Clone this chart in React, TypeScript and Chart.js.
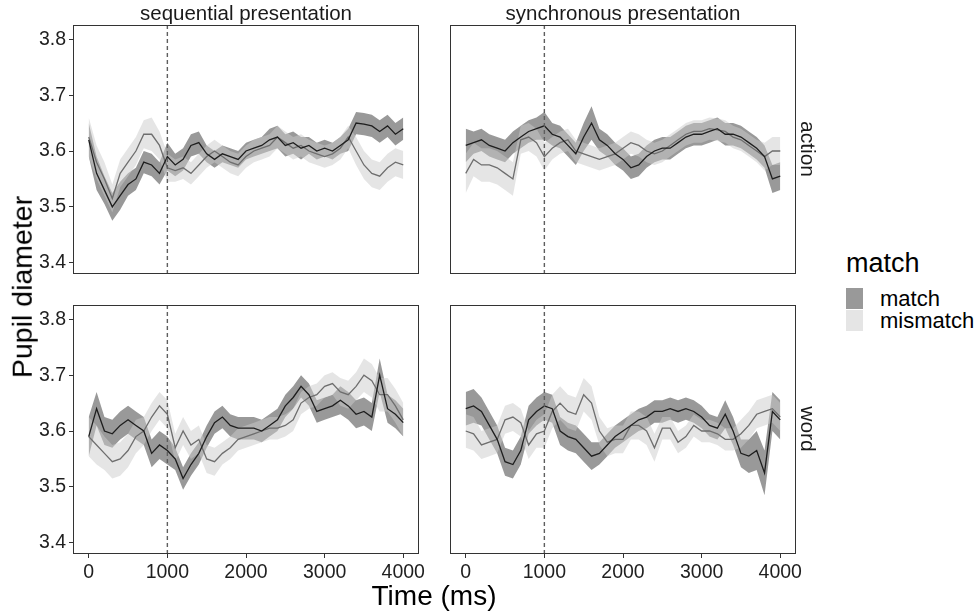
import React, { useEffect, useRef } from "react";
import { Chart, registerables } from "chart.js";

Chart.register(...registerables);

// ---------- data ----------
const TIME = [0, 100, 200, 300, 400, 500, 600, 700, 800, 900, 1000, 1100, 1200, 1300, 1400, 1500, 1600, 1700, 1800, 1900, 2000, 2100, 2200, 2300, 2400, 2500, 2600, 2700, 2800, 2900, 3000, 3100, 3200, 3300, 3400, 3500, 3600, 3700, 3800, 3900, 4000];

const X_TICKS = [0, 1000, 2000, 3000, 4000];
const X_TICK_LABELS = ["0", "1000", "2000", "3000", "4000"];
const Y_TICKS = [3.4, 3.5, 3.6, 3.7, 3.8];
const Y_TICK_LABELS = ["3.4", "3.5", "3.6", "3.7", "3.8"];
const ONSET = 1000;

const COL_LABELS = ["sequential presentation", "synchronous presentation"];
const ROW_LABELS = ["action", "word"];
const LEGEND_TITLE = "match";
const LEGEND_LABELS = ["match", "mismatch"];

// sequential / action
const SEQ_ACTION_MATCH = [3.62, 3.56, 3.53, 3.5, 3.52, 3.54, 3.55, 3.58, 3.575, 3.56, 3.59, 3.575, 3.585, 3.61, 3.615, 3.595, 3.585, 3.595, 3.59, 3.585, 3.6, 3.605, 3.61, 3.62, 3.625, 3.61, 3.615, 3.605, 3.61, 3.6, 3.605, 3.6, 3.61, 3.62, 3.65, 3.648, 3.645, 3.635, 3.645, 3.63, 3.64];
const SEQ_ACTION_MATCH_SE = [0.03, 0.03, 0.025, 0.025, 0.025, 0.02, 0.02, 0.02, 0.02, 0.02, 0.025, 0.02, 0.02, 0.02, 0.02, 0.015, 0.015, 0.015, 0.015, 0.015, 0.015, 0.015, 0.015, 0.02, 0.02, 0.02, 0.02, 0.02, 0.015, 0.015, 0.015, 0.015, 0.015, 0.02, 0.02, 0.02, 0.02, 0.02, 0.02, 0.02, 0.02];
const SEQ_ACTION_MISMATCH = [3.625, 3.58, 3.55, 3.515, 3.56, 3.58, 3.6, 3.63, 3.63, 3.61, 3.57, 3.565, 3.57, 3.56, 3.575, 3.59, 3.6, 3.59, 3.58, 3.575, 3.59, 3.6, 3.605, 3.61, 3.625, 3.615, 3.605, 3.61, 3.6, 3.595, 3.59, 3.595, 3.605, 3.625, 3.6, 3.575, 3.56, 3.555, 3.57, 3.58, 3.575];
const SEQ_ACTION_MISMATCH_SE = [0.035, 0.03, 0.03, 0.025, 0.025, 0.025, 0.025, 0.025, 0.03, 0.025, 0.025, 0.02, 0.02, 0.02, 0.02, 0.02, 0.02, 0.02, 0.02, 0.02, 0.02, 0.02, 0.02, 0.02, 0.02, 0.02, 0.02, 0.02, 0.02, 0.02, 0.02, 0.02, 0.02, 0.02, 0.025, 0.025, 0.025, 0.025, 0.025, 0.025, 0.025];

// synchronous / action
const SYNC_ACTION_MATCH = [3.61, 3.615, 3.62, 3.61, 3.605, 3.6, 3.615, 3.625, 3.635, 3.64, 3.645, 3.63, 3.625, 3.61, 3.595, 3.625, 3.65, 3.62, 3.61, 3.595, 3.585, 3.57, 3.575, 3.59, 3.6, 3.605, 3.605, 3.615, 3.625, 3.63, 3.63, 3.635, 3.64, 3.63, 3.63, 3.625, 3.615, 3.605, 3.59, 3.55, 3.555];
const SYNC_ACTION_MATCH_SE = [0.03, 0.02, 0.02, 0.02, 0.02, 0.02, 0.02, 0.02, 0.02, 0.02, 0.025, 0.02, 0.02, 0.02, 0.02, 0.025, 0.03, 0.02, 0.02, 0.02, 0.02, 0.02, 0.02, 0.02, 0.02, 0.02, 0.02, 0.02, 0.02, 0.02, 0.02, 0.02, 0.02, 0.02, 0.02, 0.02, 0.02, 0.02, 0.02, 0.025, 0.025];
const SYNC_ACTION_MISMATCH = [3.56, 3.585, 3.575, 3.575, 3.57, 3.56, 3.55, 3.62, 3.625, 3.615, 3.59, 3.605, 3.615, 3.62, 3.6, 3.595, 3.59, 3.585, 3.59, 3.595, 3.605, 3.615, 3.61, 3.6, 3.595, 3.6, 3.61, 3.62, 3.63, 3.635, 3.635, 3.64, 3.638, 3.635, 3.625, 3.62, 3.61, 3.6, 3.59, 3.6, 3.6];
const SYNC_ACTION_MISMATCH_SE = [0.035, 0.03, 0.03, 0.03, 0.03, 0.03, 0.03, 0.025, 0.025, 0.025, 0.025, 0.02, 0.02, 0.02, 0.02, 0.02, 0.02, 0.02, 0.02, 0.02, 0.02, 0.02, 0.02, 0.02, 0.02, 0.02, 0.02, 0.02, 0.02, 0.02, 0.02, 0.02, 0.02, 0.02, 0.02, 0.02, 0.02, 0.02, 0.025, 0.025, 0.025];

// sequential / word
const SEQ_WORD_MATCH = [3.59, 3.64, 3.6, 3.595, 3.61, 3.62, 3.61, 3.6, 3.56, 3.575, 3.565, 3.55, 3.515, 3.54, 3.56, 3.59, 3.615, 3.625, 3.61, 3.605, 3.605, 3.605, 3.6, 3.61, 3.62, 3.645, 3.66, 3.68, 3.665, 3.635, 3.64, 3.645, 3.655, 3.645, 3.63, 3.635, 3.625, 3.7, 3.64, 3.63, 3.615];
const SEQ_WORD_MATCH_SE = [0.035, 0.03, 0.025, 0.025, 0.025, 0.025, 0.025, 0.025, 0.025, 0.025, 0.025, 0.02, 0.02, 0.02, 0.02, 0.02, 0.02, 0.02, 0.02, 0.02, 0.02, 0.02, 0.02, 0.02, 0.02, 0.02, 0.02, 0.02, 0.02, 0.02, 0.02, 0.02, 0.025, 0.025, 0.025, 0.025, 0.025, 0.03, 0.025, 0.025, 0.025];
const SEQ_WORD_MISMATCH = [3.59, 3.575, 3.56, 3.545, 3.55, 3.565, 3.59, 3.6, 3.625, 3.645, 3.63, 3.57, 3.6, 3.575, 3.585, 3.55, 3.545, 3.56, 3.57, 3.585, 3.59, 3.595, 3.6, 3.605, 3.605, 3.61, 3.62, 3.65, 3.66, 3.665, 3.68, 3.685, 3.67, 3.665, 3.68, 3.7, 3.69, 3.665, 3.665, 3.645, 3.62];
const SEQ_WORD_MISMATCH_SE = [0.035, 0.035, 0.03, 0.03, 0.03, 0.03, 0.03, 0.025, 0.025, 0.025, 0.025, 0.025, 0.025, 0.025, 0.025, 0.025, 0.025, 0.02, 0.02, 0.02, 0.02, 0.02, 0.02, 0.02, 0.02, 0.02, 0.02, 0.02, 0.02, 0.02, 0.02, 0.02, 0.025, 0.025, 0.025, 0.03, 0.03, 0.03, 0.03, 0.03, 0.03];

// synchronous / word
const SYNC_WORD_MATCH = [3.64, 3.645, 3.635, 3.61, 3.585, 3.545, 3.54, 3.565, 3.62, 3.635, 3.645, 3.64, 3.6, 3.59, 3.585, 3.57, 3.555, 3.56, 3.575, 3.59, 3.6, 3.61, 3.62, 3.625, 3.635, 3.635, 3.64, 3.635, 3.64, 3.635, 3.625, 3.61, 3.605, 3.63, 3.6, 3.56, 3.555, 3.565, 3.525, 3.635, 3.62];
const SYNC_WORD_MATCH_SE = [0.03, 0.03, 0.025, 0.025, 0.025, 0.025, 0.025, 0.025, 0.025, 0.025, 0.025, 0.025, 0.025, 0.025, 0.025, 0.025, 0.025, 0.02, 0.02, 0.02, 0.02, 0.02, 0.02, 0.02, 0.02, 0.02, 0.02, 0.02, 0.02, 0.02, 0.02, 0.02, 0.02, 0.025, 0.025, 0.025, 0.03, 0.035, 0.04, 0.035, 0.035];
const SYNC_WORD_MISMATCH = [3.6, 3.595, 3.575, 3.58, 3.585, 3.62, 3.625, 3.615, 3.575, 3.595, 3.6, 3.635, 3.65, 3.635, 3.63, 3.665, 3.65, 3.6, 3.58, 3.585, 3.585, 3.61, 3.61, 3.6, 3.57, 3.605, 3.605, 3.58, 3.59, 3.61, 3.6, 3.6, 3.595, 3.585, 3.585, 3.595, 3.61, 3.63, 3.635, 3.64, 3.625];
const SYNC_WORD_MISMATCH_SE = [0.03, 0.03, 0.025, 0.025, 0.025, 0.025, 0.025, 0.025, 0.025, 0.025, 0.03, 0.03, 0.03, 0.03, 0.03, 0.03, 0.03, 0.025, 0.025, 0.025, 0.025, 0.025, 0.025, 0.025, 0.025, 0.02, 0.02, 0.02, 0.02, 0.02, 0.02, 0.02, 0.02, 0.02, 0.02, 0.025, 0.025, 0.025, 0.025, 0.025, 0.025];

// ---------- styling ----------
const FONT = "'Liberation Sans', Arial, Helvetica, sans-serif";
const X_MIN = -200;
const X_MAX = 4200;
const Y_MIN = 3.3798;
const Y_MAX = 3.8256;
const MATCH_LINE = "#1e1e1e";
const MISMATCH_LINE = "#6e6e6e";
const MATCH_FILL = "rgba(51,51,51,0.5)";
const MISMATCH_FILL = "rgba(204,204,204,0.5)";
const AXIS_COL = "#333333";
const TICK_TEXT = "#1f1f1f";

type Panel = {
  match: number[];
  matchSe: number[];
  mismatch: number[];
  mismatchSe: number[];
  showX: boolean;
  showY: boolean;
  left: number;
  top: number;
  width: number;
  height: number;
  pad: { left: number; right: number; top: number; bottom: number };
};

const PANELS: Panel[] = [
  { match: SEQ_ACTION_MATCH, matchSe: SEQ_ACTION_MATCH_SE, mismatch: SEQ_ACTION_MISMATCH, mismatchSe: SEQ_ACTION_MISMATCH_SE, showX: false, showY: true, left: 0, top: 0, width: 430, height: 290, pad: { left: 0, right: 11, top: 25, bottom: 16 } },
  { match: SYNC_ACTION_MATCH, matchSe: SYNC_ACTION_MATCH_SE, mismatch: SYNC_ACTION_MISMATCH, mismatchSe: SYNC_ACTION_MISMATCH_SE, showX: false, showY: false, left: 440, top: 0, width: 370, height: 290, pad: { left: 10, right: 14, top: 25, bottom: 16 } },
  { match: SEQ_WORD_MATCH, matchSe: SEQ_WORD_MATCH_SE, mismatch: SEQ_WORD_MISMATCH, mismatchSe: SEQ_WORD_MISMATCH_SE, showX: true, showY: true, left: 0, top: 290, width: 430, height: 310, pad: { left: 0, right: 11, top: 15, bottom: 8 } },
  { match: SYNC_WORD_MATCH, matchSe: SYNC_WORD_MATCH_SE, mismatch: SYNC_WORD_MISMATCH, mismatchSe: SYNC_WORD_MISMATCH_SE, showX: true, showY: false, left: 440, top: 290, width: 370, height: 310, pad: { left: 10, right: 14, top: 15, bottom: 8 } },
];

const boxPlugin = {
  id: "panelBox",
  afterDatasetsDraw(chart: any) {
    const { ctx, chartArea } = chart;
    const { left, top, right, bottom } = chartArea;
    ctx.save();
    ctx.strokeStyle = AXIS_COL;
    ctx.lineWidth = 1;
    ctx.strokeRect(left + 0.5, top + 0.5, right - left - 1, bottom - top - 1);
    ctx.restore();
  },
};

function makeConfig(p: Panel): any {
  const line = (vals: number[]) => TIME.map((t, i) => ({ x: t, y: vals[i] }));
  const band = (vals: number[], se: number[], s: number) => TIME.map((t, i) => ({ x: t, y: vals[i] + s * se[i] }));
  const base = { pointRadius: 0, pointHoverRadius: 0, tension: 0 };
  const tickFont = { family: FONT, size: 19.5 };
  return {
    type: "line",
    data: {
      datasets: [
        { ...base, data: line(p.match), borderColor: MATCH_LINE, borderWidth: 1.3, fill: false, order: 0 },
        { ...base, data: line(p.mismatch), borderColor: MISMATCH_LINE, borderWidth: 1.3, fill: false, order: 0.5 },
        { ...base, data: band(p.match, p.matchSe, -1), borderColor: "rgba(0,0,0,0)", borderWidth: 0, fill: false, order: 2 },
        { ...base, data: band(p.match, p.matchSe, 1), borderColor: "rgba(0,0,0,0)", borderWidth: 0, fill: "-1", backgroundColor: MATCH_FILL, order: 2 },
        { ...base, data: band(p.mismatch, p.mismatchSe, -1), borderColor: "rgba(0,0,0,0)", borderWidth: 0, fill: false, order: 1 },
        { ...base, data: band(p.mismatch, p.mismatchSe, 1), borderColor: "rgba(0,0,0,0)", borderWidth: 0, fill: "-1", backgroundColor: MISMATCH_FILL, order: 1 },
        { ...base, data: [{ x: ONSET, y: Y_MIN }, { x: ONSET, y: Y_MAX }], borderColor: "#5e5e5e", borderDash: [4, 3], borderWidth: 1.4, fill: false, order: -1 },
      ],
    },
    options: {
      animation: false,
      responsive: false,
      maintainAspectRatio: false,
      devicePixelRatio: 1,
      events: [],
      layout: { padding: p.pad },
      plugins: { legend: { display: false }, tooltip: { enabled: false } },
      scales: {
        x: {
          type: "linear",
          min: X_MIN,
          max: X_MAX,
          display: p.showX,
          afterBuildTicks: (s: any) => {
            s.ticks = X_TICKS.map((v) => ({ value: v }));
          },
          afterFit: (s: any) => {
            s.height = p.showX ? 38 : 0;
          },
          grid: { display: true, drawOnChartArea: false, drawTicks: true, tickLength: 4, color: AXIS_COL, lineWidth: 1 },
          border: { display: false },
          ticks: { autoSkip: false, maxRotation: 0, padding: 3, color: TICK_TEXT, font: tickFont, callback: (_v: any, i: number) => X_TICK_LABELS[i] },
        },
        y: {
          type: "linear",
          min: Y_MIN,
          max: Y_MAX,
          display: p.showY,
          afterBuildTicks: (s: any) => {
            s.ticks = Y_TICKS.map((v) => ({ value: v }));
          },
          afterFit: (s: any) => {
            s.width = p.showY ? 73 : 0;
          },
          grid: { display: true, drawOnChartArea: false, drawTicks: true, tickLength: 4, color: AXIS_COL, lineWidth: 1 },
          border: { display: false },
          ticks: { autoSkip: false, padding: 3, color: TICK_TEXT, font: tickFont, callback: (_v: any, i: number) => Y_TICK_LABELS[i] },
        },
      },
    },
    plugins: [boxPlugin],
  };
}

function Label(props: { x: number; y: number; size: number; rot?: number; color?: string; children: React.ReactNode }) {
  const { x, y, size, rot = 0, color = "#1a1a1a", children } = props;
  return (
    <div
      style={{
        position: "absolute",
        left: x,
        top: y,
        transform: `translate(-50%, -50%) rotate(${rot}deg)`,
        fontFamily: FONT,
        fontSize: size,
        lineHeight: 1,
        whiteSpace: "nowrap",
        color,
      }}
    >
      {children}
    </div>
  );
}

export default function App() {
  const r0 = useRef<HTMLCanvasElement>(null);
  const r1 = useRef<HTMLCanvasElement>(null);
  const r2 = useRef<HTMLCanvasElement>(null);
  const r3 = useRef<HTMLCanvasElement>(null);
  const refs = [r0, r1, r2, r3];

  useEffect(() => {
    const charts = PANELS.map((p, i) => new Chart(refs[i].current as HTMLCanvasElement, makeConfig(p)));
    return () => charts.forEach((c) => c.destroy());
  }, []);

  return (
    <div style={{ position: "absolute", left: 0, top: 0, width: 979, height: 611, background: "#ffffff", overflow: "hidden" }}>
      {PANELS.map((p, i) => (
        <canvas
          key={i}
          ref={refs[i]}
          width={p.width}
          height={p.height}
          style={{ position: "absolute", left: p.left, top: p.top, width: p.width, height: p.height }}
        />
      ))}
      <Label x={246} y={13} size={20.5}>{COL_LABELS[0]}</Label>
      <Label x={623} y={13} size={20.5}>{COL_LABELS[1]}</Label>
      <Label x={808} y={149} size={21} rot={90}>{ROW_LABELS[0]}</Label>
      <Label x={808} y={429} size={21} rot={90}>{ROW_LABELS[1]}</Label>
      <Label x={22} y={287} size={28.5} rot={-90} color="#000">Pupil diameter</Label>
      <Label x={434} y={596} size={28} color="#000">Time (ms)</Label>

      <div style={{ position: "absolute", left: 846, top: 263, transform: "translateY(-50%)", fontFamily: FONT, fontSize: 27, lineHeight: 1, color: "#000" }}>
        {LEGEND_TITLE}
      </div>
      <div style={{ position: "absolute", left: 846, top: 288, width: 17, height: 21, background: "#999999" }} />
      <div style={{ position: "absolute", left: 846, top: 310, width: 17, height: 21, background: "#e5e5e5" }} />
      <div style={{ position: "absolute", left: 880, top: 299, transform: "translateY(-50%)", fontFamily: FONT, fontSize: 22, lineHeight: 1, color: "#000" }}>
        {LEGEND_LABELS[0]}
      </div>
      <div style={{ position: "absolute", left: 880, top: 321, transform: "translateY(-50%)", fontFamily: FONT, fontSize: 22, lineHeight: 1, color: "#000" }}>
        {LEGEND_LABELS[1]}
      </div>
    </div>
  );
}
